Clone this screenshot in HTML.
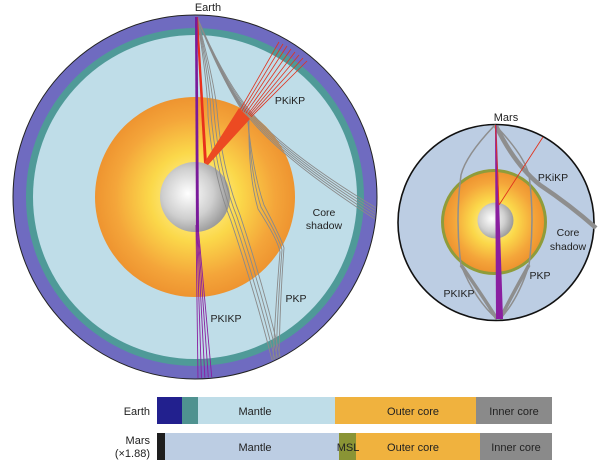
<!DOCTYPE html>
<html><head><meta charset="utf-8"><style>
body{margin:0;background:#fff;width:600px;height:464px;overflow:hidden}
svg{display:block}
text{font-family:"Liberation Sans",sans-serif;fill:#222}
</style></head><body>
<svg width="600" height="464" viewBox="0 0 600 464">
<defs>
<radialGradient id="oc" cx="50%" cy="50%" r="50%">
<stop offset="0" stop-color="#fffbb0"/><stop offset="0.45" stop-color="#fbd84a"/><stop offset="0.8" stop-color="#f4a53a"/><stop offset="1" stop-color="#ee9430"/>
</radialGradient>
<radialGradient id="ic" cx="40%" cy="45%" r="60%">
<stop offset="0" stop-color="#ffffff"/><stop offset="0.6" stop-color="#cfcfcf"/><stop offset="1" stop-color="#9a9a9a"/>
</radialGradient>
<clipPath id="ec"><circle cx="195" cy="197" r="181"/></clipPath>
</defs>
<!-- Earth -->
<circle cx="195" cy="197" r="182" fill="#6f6bc0" stroke="#222" stroke-width="1"/>
<circle cx="195" cy="197" r="169" fill="#4f9a98"/>
<circle cx="195" cy="197" r="162" fill="#bfdde8"/>
<circle cx="195" cy="197" r="100" fill="url(#oc)"/>
<circle cx="195" cy="197" r="35" fill="url(#ic)"/>
<g clip-path="url(#ec)">
<!-- grey rays earth -->
<g fill="none" stroke="#8a8a8a" stroke-width="0.9">
<path d="M197 17 Q222 75 246 106 Q280 150 378 209"/>
<path d="M197 17 Q222 77 246 108 Q280 152 378 212"/>
<path d="M197 17 Q222 79 246 110 Q280 154 378 215"/>
<path d="M197 17 Q222 81 246 112 Q280 156 378 218"/>
<path d="M197 17 Q222 83 246 114 Q280 158 378 221"/>
<path d="M197 17 Q228 90 247 112 Q252 170 264 205 Q282 240 284 248 Q280 300 279 360"/>
<path d="M197 17 Q228 92 248 116 Q250 172 261 207 Q280 240 282 250 Q278 300 276 360"/>
<path d="M197 17 Q228 94 249 120 Q248 174 258 209 Q278 240 280 252 Q276 300 273 360"/>
<path d="M197 17 Q214 80 217 110 Q222 170 240 215 Q265 290 281 360"/>
<path d="M197 17 Q212 82 214 112 Q219 172 237 217 Q262 292 278 360"/>
<path d="M197 17 Q210 84 211 114 Q216 174 234 219 Q259 294 275 360"/>
<path d="M197 17 Q208 86 208 116 Q213 176 231 221 Q256 296 272 360"/>
</g>
<!-- red -->
<g stroke="#e0331e" fill="none" stroke-width="0.8">
<line x1="240" y1="110" x2="279" y2="42"/><line x1="242" y1="111" x2="283" y2="44"/><line x1="244" y1="112" x2="287" y2="46"/><line x1="246" y1="113" x2="291" y2="49"/><line x1="248" y1="114" x2="295" y2="52"/><line x1="249" y1="115" x2="299" y2="55"/><line x1="250" y1="116" x2="303" y2="58"/><line x1="251" y1="117" x2="307" y2="61"/>
</g>
<polygon points="196,17 198,17 207,163 204,163" fill="#e8301c"/>
<polygon points="204,163 239,108 250,119 208,165" fill="#ec4a22"/>
<!-- purple earth -->
<g stroke="#8a1fa0" stroke-width="0.9" fill="none">
<line x1="196" y1="225" x2="198" y2="380"/><line x1="196.5" y1="225" x2="201.5" y2="380"/><line x1="197" y1="225" x2="205" y2="380"/><line x1="197.5" y1="225" x2="208.5" y2="380"/><line x1="198" y1="225" x2="212" y2="380"/>
</g>
<polygon points="195,17 197.5,17 199,232 196,232" fill="#7a1a9a"/>
</g>
<text x="208" y="11" font-size="11" text-anchor="middle">Earth</text>
<text x="290" y="104" font-size="10.5" text-anchor="middle">PKiKP</text>
<text x="324" y="216" font-size="10.5" text-anchor="middle">Core</text>
<text x="324" y="229" font-size="10.5" text-anchor="middle">shadow</text>
<text x="296" y="302" font-size="10.5" text-anchor="middle">PKP</text>
<text x="226" y="322" font-size="10.5" text-anchor="middle">PKIKP</text>
<!-- Mars -->
<circle cx="496" cy="222.5" r="98" fill="#bccde3" stroke="#111" stroke-width="1.6"/>
<circle cx="494" cy="222" r="53" fill="#8f9c3a"/>
<circle cx="494" cy="222" r="50" fill="url(#oc)"/>
<circle cx="495.5" cy="220.5" r="18" fill="url(#ic)"/>
<g fill="none" stroke="#8e8e8e">
<path d="M495 125 Q466 155 461 175 Q455 220 461 265 Q475 300 497 319" stroke-width="1.5"/>
<path d="M495 125 Q524 155 529 175 Q535 220 529 265 Q518 300 500 319" stroke-width="1.5"/>
<path d="M461 265 Q482 295 497 319" stroke-width="3.5"/>
<path d="M529 265 Q512 295 500 319" stroke-width="3.5"/>
<path d="M496 126 Q515 165 540 185 Q570 205 596 228" stroke-width="4.5"/>
</g>
<polygon points="495,125 496.5,125 503,319 496,319" fill="#8a1fa0"/>
<g stroke="#e0331e" stroke-width="0.9"><line x1="495.5" y1="125" x2="499" y2="205"/><line x1="499" y1="205" x2="543" y2="137"/></g>
<text x="506" y="121" font-size="11" text-anchor="middle">Mars</text>
<text x="553" y="181" font-size="10.5" text-anchor="middle">PKiKP</text>
<text x="568" y="236" font-size="10.5" text-anchor="middle">Core</text>
<text x="568" y="250" font-size="10.5" text-anchor="middle">shadow</text>
<text x="540" y="279" font-size="10.5" text-anchor="middle">PKP</text>
<text x="459" y="297" font-size="10.5" text-anchor="middle">PKIKP</text>
<!-- bars -->
<rect x="157" y="397" width="25" height="27" fill="#22208e"/>
<rect x="182" y="397" width="16" height="27" fill="#4f9290"/>
<rect x="198" y="397" width="137" height="27" fill="#bfdde8"/>
<rect x="335" y="397" width="141" height="27" fill="#f0b23e"/>
<rect x="476" y="397" width="76" height="27" fill="#8a8a8a"/>
<rect x="157" y="433" width="8" height="27" fill="#1e1e1e"/>
<rect x="165" y="433" width="174" height="27" fill="#bccde3"/>
<rect x="339" y="433" width="17" height="27" fill="#8a9435"/>
<rect x="356" y="433" width="124" height="27" fill="#f0b23e"/>
<rect x="480" y="433" width="72" height="27" fill="#8a8a8a"/>
<g font-size="11">
<text x="150" y="415" text-anchor="end">Earth</text>
<text x="150" y="444" text-anchor="end">Mars</text>
<text x="150" y="457" text-anchor="end">(×1.88)</text>
<text x="255" y="415" text-anchor="middle">Mantle</text>
<text x="413" y="415" text-anchor="middle">Outer core</text>
<text x="514" y="415" text-anchor="middle">Inner core</text>
<text x="255" y="451" text-anchor="middle">Mantle</text>
<text x="348" y="451" text-anchor="middle">MSL</text>
<text x="413" y="451" text-anchor="middle">Outer core</text>
<text x="516" y="451" text-anchor="middle">Inner core</text>
</g>
</svg>
</body></html>
